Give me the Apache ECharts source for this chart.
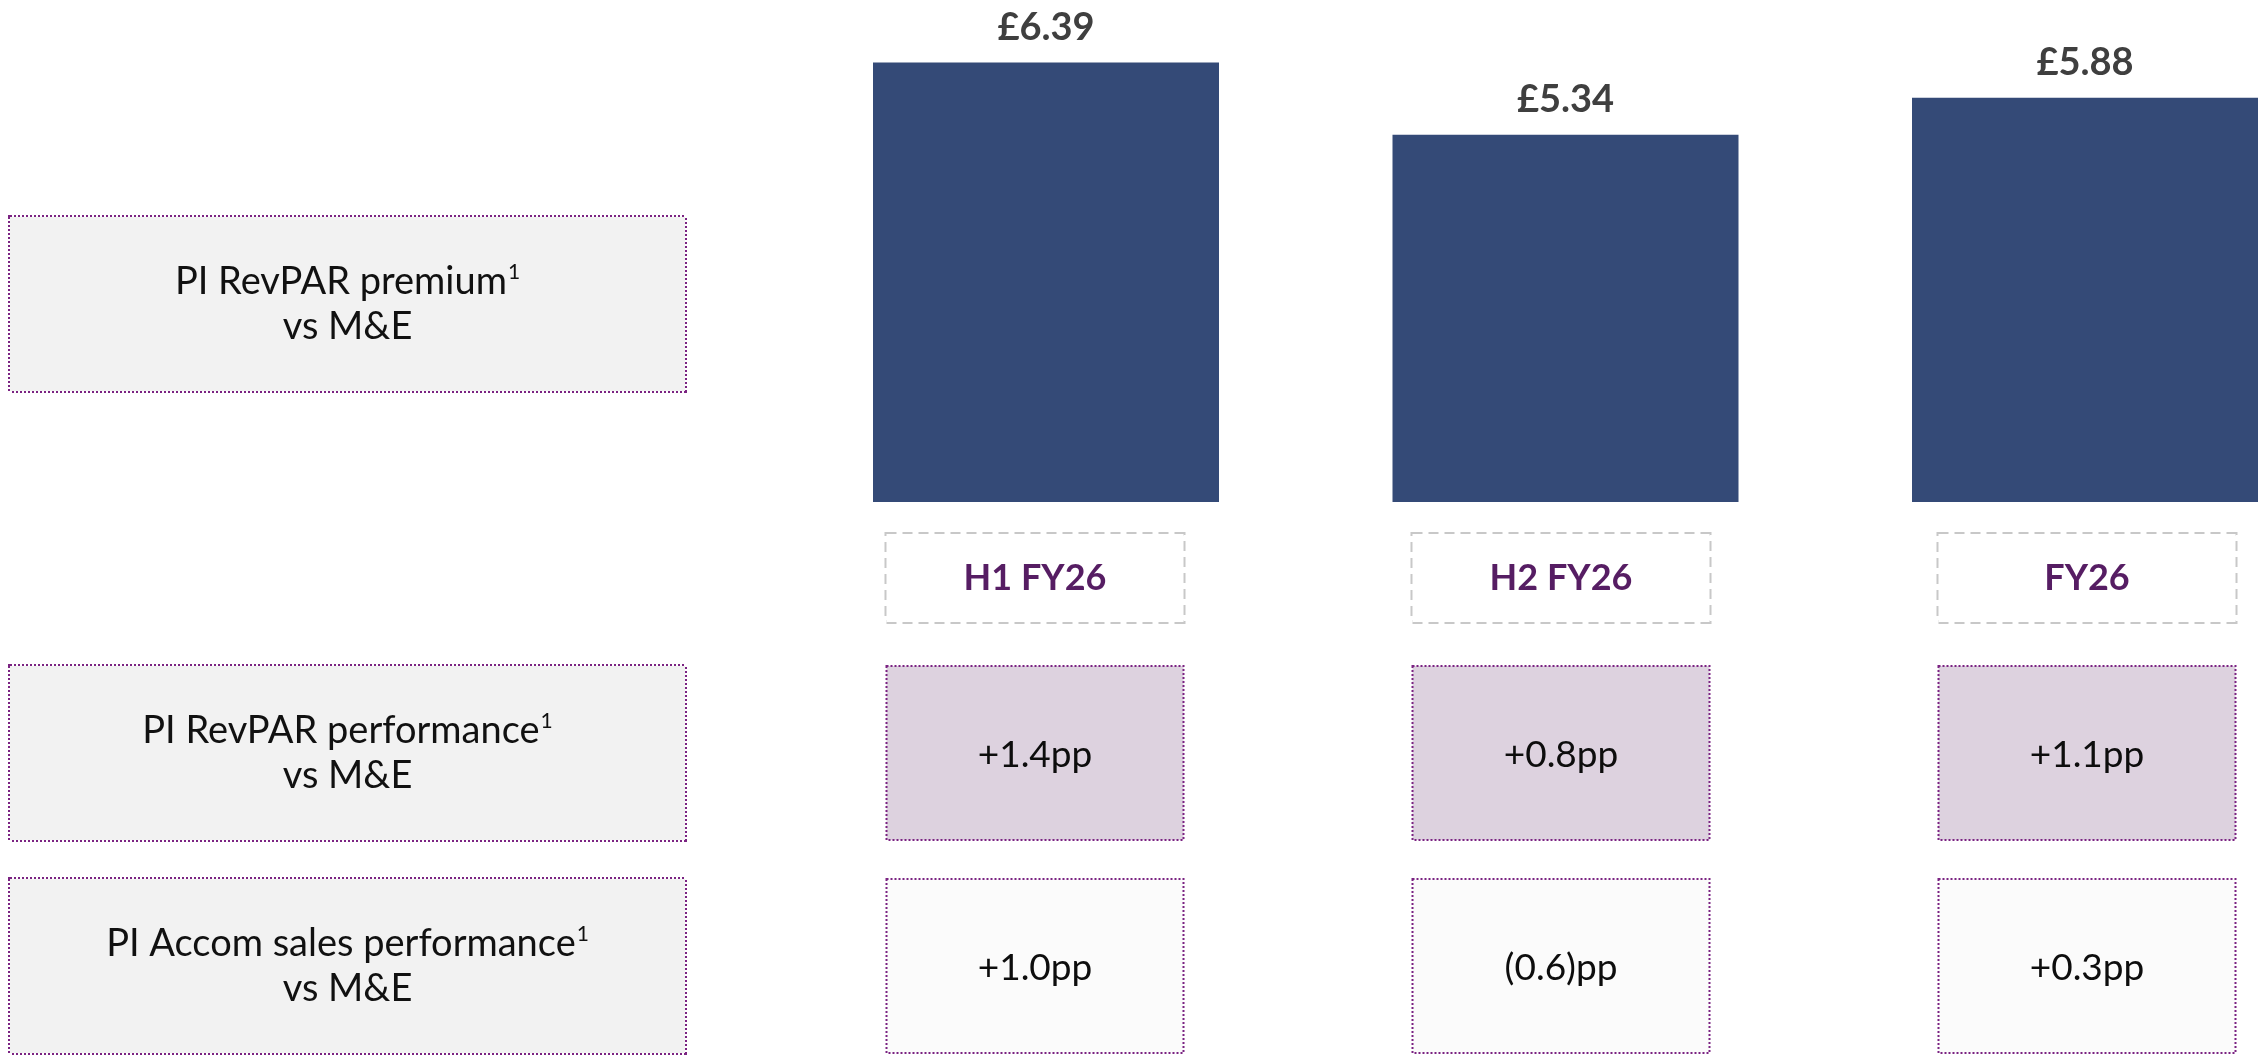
<!DOCTYPE html>
<html>
<head>
<meta charset="utf-8">
<script src="https://cdn.jsdelivr.net/npm/echarts@6/dist/echarts.min.js"></script>
<style>
html,body{margin:0;padding:0;background:#fff;}
#chart{width:2267px;height:1057px;}
</style>
</head>
<body>
<div id="chart"></div>
<script>
// ---- data ----
var periods = ['H1 FY26', 'H2 FY26', 'FY26'];
var revparPremium = [6.39, 5.34, 5.88];
var premiumLabels = ['£6.39', '£5.34', '£5.88'];
var premiumRowHeader = ['PI RevPAR premium\nvs M&E'];
var tableRowHeaders = ['PI RevPAR performance\nvs M&E', 'PI Accom sales performance\nvs M&E'];
var revparPerformance = ['+1.4pp', '+0.8pp', '+1.1pp'];
var accomPerformance = ['+1.0pp', '(0.6)pp', '+0.3pp'];

var tableRows = [revparPerformance, accomPerformance];
var rowFills = ['#ddd2df', '#fbfbfb'];
var cellData = [];
tableRows.forEach(function (row, r) {
  row.forEach(function (t, c) { cellData.push([c, r]); });
});

var FONT = 'Lato, "Noto Sans", sans-serif';
var PURPLE_BORDER = '#7b2382';

function headerLabel(margin) {
  return {
    show: true,
    margin: margin,
    width: 675,
    padding: [42, 0, 42, 0],
    backgroundColor: '#f2f2f2',
    borderColor: PURPLE_BORDER,
    borderWidth: 2,
    borderType: [2, 2],
    formatter: function (v) {
      var parts = v.split('\n');
      return '{t|' + parts[0] + '}{s|1}\n{t|' + parts[1] + '}';
    },
    rich: {
      t: { fontSize: 38, fontFamily: FONT, color: '#111111', align: 'center', lineHeight: 45 },
      s: { fontSize: 21, fontFamily: FONT, color: '#111111', align: 'center', lineHeight: 45, verticalAlign: 'top', padding: [3, 0, 0, 1] }
    }
  };
}

var chart = echarts.init(document.getElementById('chart'), null, { renderer: 'canvas' });
chart.setOption({
  backgroundColor: '#ffffff',
  animation: false,
  grid: [
    { left: 1046, right: 182, top: 0, bottom: 555 },
    { left: 1035, right: 180, top: 753, bottom: 91 },
    { left: 1035, right: 180, top: 217, height: 174 }
  ],
  xAxis: [
    { gridIndex: 0, type: 'category', data: periods, boundaryGap: false,
      axisLine: { show: false }, axisTick: { show: false }, axisLabel: { show: false }, splitLine: { show: false } },
    { gridIndex: 1, type: 'category', data: periods, boundaryGap: false, position: 'top',
      axisLine: { show: false }, axisTick: { show: false }, splitLine: { show: false },
      axisLabel: {
        show: true, margin: 131, fontSize: 36, fontWeight: 'bold', fontFamily: FONT, color: '#561d63',
        width: 297, lineHeight: 88, align: 'center', padding: 0,
        backgroundColor: '#ffffff', borderColor: '#c8c8c8', borderWidth: 2, borderType: [10, 6]
      } },
    { gridIndex: 2, type: 'category', data: periods, show: false }
  ],
  yAxis: [
    { gridIndex: 0, type: 'value', min: 0, max: 7.3, show: false },
    { gridIndex: 1, type: 'category', data: tableRowHeaders, inverse: true, boundaryGap: false,
      axisLine: { show: false }, axisTick: { show: false }, splitLine: { show: false },
      axisLabel: headerLabel(350) },
    { gridIndex: 2, type: 'category', data: premiumRowHeader,
      axisLine: { show: false }, axisTick: { show: false }, splitLine: { show: false },
      axisLabel: headerLabel(350) }
  ],
  series: [
    {
      type: 'bar', xAxisIndex: 0, yAxisIndex: 0,
      data: revparPremium, barWidth: 346,
      itemStyle: { color: '#344a77' },
      label: {
        show: true, position: 'top', distance: 16,
        fontSize: 38, fontWeight: 'bold', fontFamily: FONT, color: '#3f3f3f',
        formatter: function (p) { return premiumLabels[p.dataIndex]; }
      }
    },
    {
      type: 'custom', xAxisIndex: 1, yAxisIndex: 1,
      data: cellData,
      encode: { x: 0, y: 1 },
      renderItem: function (params, api) {
        var c = api.value(0), r = api.value(1);
        var p = api.coord([c, r]);
        var w = 297, h = 174;
        return {
          type: 'group',
          children: [
            { type: 'rect', shape: { x: p[0] - w / 2, y: p[1] - h / 2, width: w, height: h },
              style: { fill: rowFills[r], stroke: PURPLE_BORDER, lineWidth: 2, lineDash: [2, 2] } },
            { type: 'text', style: { text: tableRows[r][c], x: p[0], y: p[1] + 2, align: 'center', verticalAlign: 'middle',
              font: '37px ' + FONT, fill: '#0d0d0d' } }
          ]
        };
      }
    }
  ]
});
</script>
</body>
</html>
